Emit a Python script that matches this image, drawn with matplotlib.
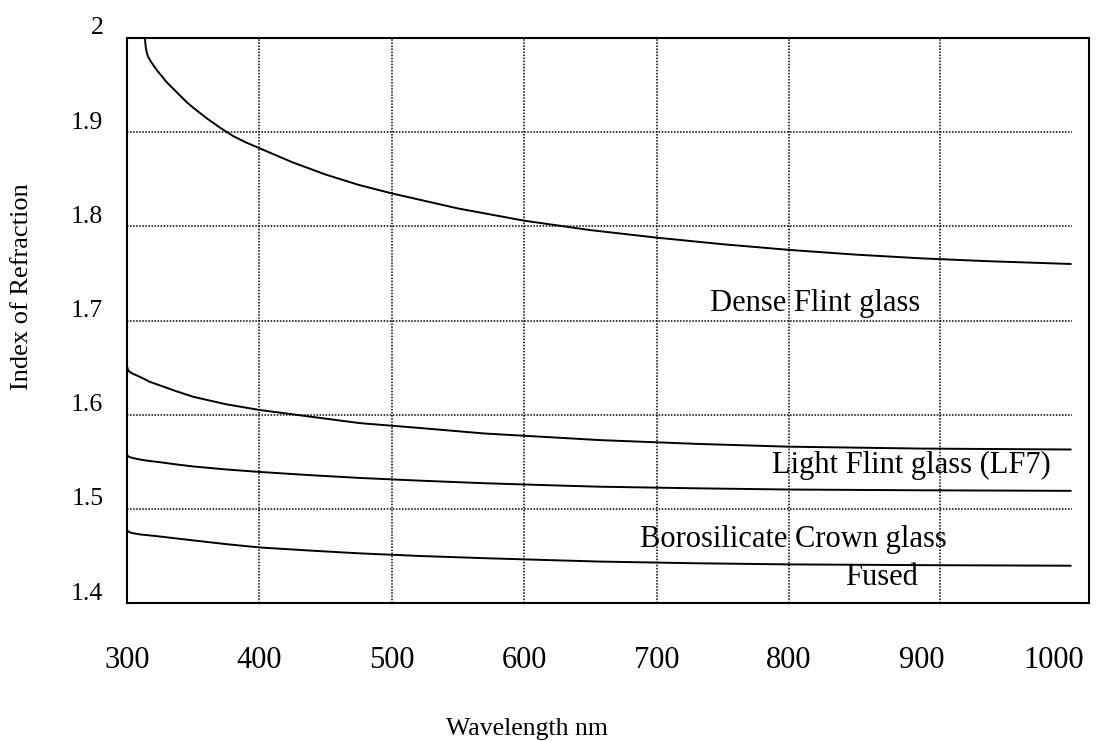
import matplotlib
matplotlib.use('Agg')  # no display in the sandbox
import matplotlib.pyplot as plt
from matplotlib.transforms import ScaledTranslation

# refractive index vs wavelength (nm)
dense_wl = [313.6, 313.8, 314.2, 315, 316, 318, 320, 323, 326, 330, 335, 340, 345,
            350, 360, 370, 380, 390, 400, 425, 450, 475, 500, 550, 600, 650, 700,
            750, 800, 850, 900, 950, 1013.5]
dense_n = [2.000, 1.995, 1.990, 1.984, 1.980, 1.975, 1.971, 1.965, 1.960, 1.953,
           1.946, 1.939, 1.932, 1.926, 1.915, 1.905, 1.896, 1.889, 1.883, 1.868,
           1.855, 1.844, 1.835, 1.819, 1.806, 1.796, 1.788, 1.781, 1.775, 1.770,
           1.766, 1.763, 1.760]

light_wl = [300, 300.4, 301.2, 303, 306, 310, 317, 325, 337, 350, 375, 400, 438,
            476, 520, 570, 620, 657, 730, 800, 900, 1013.5]
light_n = [1.652, 1.649, 1.6465, 1.6445, 1.6425, 1.640, 1.635, 1.631, 1.625, 1.619,
           1.611, 1.605, 1.598, 1.591, 1.586, 1.580, 1.576, 1.573, 1.569, 1.566,
           1.564, 1.563]

boro_wl = [300, 300.4, 301.2, 302.5, 305, 310, 317, 325, 337, 350, 375, 400, 438,
           476, 520, 570, 620, 657, 730, 800, 900, 1013.5]
boro_n = [1.558, 1.5565, 1.5555, 1.5547, 1.5538, 1.5523, 1.5508, 1.5495, 1.5472,
          1.5450, 1.5418, 1.5392, 1.5358, 1.5328, 1.5300, 1.5272, 1.5250, 1.5235,
          1.5218, 1.5205, 1.5197, 1.5191]

fused_wl = [300, 300.4, 301.2, 302.5, 305, 310, 317, 325, 337, 350, 375, 400, 438,
            476, 520, 570, 620, 657, 730, 800, 900, 1013.5]
fused_n = [1.4781, 1.4767, 1.4757, 1.4749, 1.4740, 1.4728, 1.4718, 1.4706, 1.4686,
           1.4665, 1.4625, 1.4590, 1.4557, 1.4527, 1.4500, 1.4476, 1.4455, 1.4440,
           1.4422, 1.4410, 1.4402, 1.4396]

x_ticks = [300, 400, 500, 600, 700, 800, 900, 1000]
y_ticks = [1.4, 1.5, 1.6, 1.7, 1.8, 1.9, 2.0]
y_tick_labels = ['1.4', '1.5', '1.6', '1.7', '1.8', '1.9', '2']
grid_x = [400, 500, 600, 700, 800, 914]
grid_y = [1.5, 1.6, 1.7, 1.8, 1.9]

plt.rcParams['font.family'] = ['Liberation Serif', 'DejaVu Serif']

fig = plt.figure(figsize=(11.01, 7.41), dpi=100)
ax = fig.add_axes([127 / 1101, 138 / 741, 962 / 1101, 565 / 741])
ax.set_xlim(300, 1026.7)
ax.set_ylim(1.4, 2.0)

# dotted grid, drawn by hand because it is not on the tick positions
for gx in grid_x:
    ax.axvline(gx, color='black', linestyle=(0, (1, 1)), linewidth=1.1, zorder=1)
ax.hlines(grid_y, 300, 1013.5, colors='black', linestyles=(0, (1, 1)),
          linewidth=1.1, zorder=1)

for wl, n in [(dense_wl, dense_n), (light_wl, light_n),
              (boro_wl, boro_n), (fused_wl, fused_n)]:
    ax.plot(wl, n, color='black', linewidth=1.4, zorder=2, clip_on=False,
            solid_joinstyle='round', solid_capstyle='butt')

ax.text(820.0, 1.7096, 'Dense Flint glass', fontsize=22, ha='center', va='baseline')
ax.text(892.2, 1.5378, 'Light Flint glass (LF7)', fontsize=22, ha='center', va='baseline')
ax.text(803.4, 1.4594, 'Borosilicate Crown glass', fontsize=22, ha='center', va='baseline')
ax.text(869.9, 1.4191, 'Fused', fontsize=22, ha='center', va='baseline')

ax.set_xticks(x_ticks)
ax.set_yticks(y_ticks)
ax.set_yticklabels(y_tick_labels)
ax.tick_params(axis='x', length=0, pad=31, labelsize=22)
ax.tick_params(axis='y', length=0, pad=17, labelsize=18.5)
shift = ScaledTranslation(0, 12 / 100, fig.dpi_scale_trans)
for lab in ax.get_yticklabels():
    lab.set_transform(lab.get_transform() + shift)

for sp in ax.spines.values():
    sp.set_linewidth(1.5)
    sp.set_color('black')

fig.text(22 / 1101, 1 - 287 / 741, 'Index of Refraction', fontsize=19,
         rotation=90, ha='center', va='center')
fig.text(527 / 1101, 1 - 729 / 741, 'Wavelength nm', fontsize=18.5,
         ha='center', va='center')

fig.savefig('out.png', dpi=100, facecolor='white')
plt.close(fig)
